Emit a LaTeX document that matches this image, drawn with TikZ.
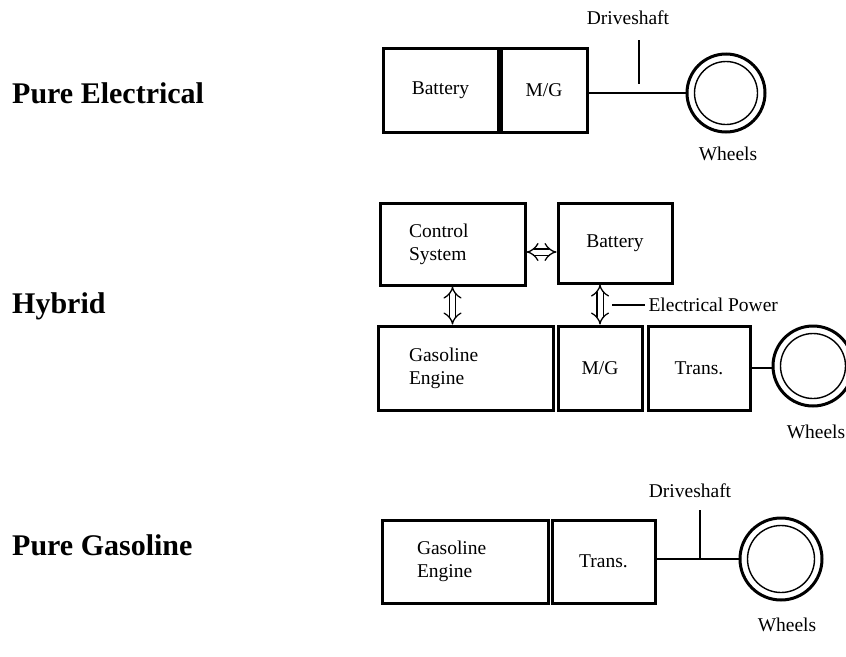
\documentclass[tikz,border=0pt]{standalone}
\usepackage{fontspec}
\setmainfont{Liberation Serif}
\usepackage{tikz}
\usetikzlibrary{arrows.meta}
\usetikzlibrary{calc}

\tikzset{
  unit/.style={draw, line width=3pt, minimum height=84pt, inner sep=0pt, font=\fontsize{19.5}{23}\selectfont},
  lbl/.style={font=\fontsize{19.5}{23}\selectfont},
  title/.style={font=\fontsize{30}{36}\selectfont\bfseries, anchor=base west, inner sep=0pt},
  wheel/.style={circle, draw, line width=3pt, minimum size=#1, inner sep=0pt,
    path picture={\draw[line width=1.4pt] (path picture bounding box.center) circle ({#1/2-7.5pt});}},
  wheel/.default=78pt,
  shaft/.style={line width=2.8pt},
  tick/.style={line width=1.5pt},
  flow/.style={double, double distance=5pt, line width=1.3pt, {Implies}-{Implies}}
}

\begin{document}
\begin{tikzpicture}[x=1pt, y=-1pt]
            \useasboundingbox (0,0) rectangle (846,656);
            % titles
            \node[title](tpe) at (12,103) {Pure Electrical};
            \node[title](thy) at (12,313) {Hybrid};
            \node[title](tpg) at (12,555) {Pure Gasoline};

            % pure electrical
            \node[unit, minimum width=115pt](bat1) at (440.5,90) {Battery};
            \node[unit, minimum width=86pt](mg1) at (544,90) {M/G};
            \node[wheel](wh1) at (726,93) {};
            \node[lbl](whl1) at (728,154) {Wheels};
            \node[lbl](ds1) at (628,18) {Driveshaft};
            \coordinate (t1a) at (639,40);
            \coordinate (t1b) at (639,84);
            \draw[shaft] (wh1.west -| mg1.east) -- (wh1.west);
            \draw[tick] (t1a) -- (t1b);

            % hybrid
            \node[unit, minimum width=145pt, minimum height=82pt, text width=87pt, align=left](cs) at (452.5,244) {Control\\System};
            \node[unit, minimum width=114pt, minimum height=80pt](bat2) at (615,243) {Battery};
            \node[unit, minimum width=175pt, text width=113pt, align=left](ge2) at (465.5,368) {Gasoline\\Engine};
            \node[unit, minimum width=84pt](mg2) at (600,368) {M/G};
            \node[unit, minimum width=102pt](tr2) at (699,368) {Trans.};
            \node[wheel=80pt](wh2) at (813,366) {};
            \node[lbl](whl2) at (816,432) {Wheels};
            \node[lbl, anchor=west](ep) at (645,305) {Electrical Power};
            \coordinate (epa) at (612,305);
            \draw[flow] ([yshift=-8pt]cs.east) -- ([yshift=-8pt]cs.east -| bat2.west);
            \draw[flow] (cs.south) -- (cs.south |- ge2.north);
            \draw[flow] (bat2.south -| mg2) -- (mg2.north);
            \draw[tick] (epa) -- (ep.west);
            \draw[shaft] (tr2.east) -- (tr2.east -| wh2.west);

            % pure gasoline
            \node[unit, minimum width=166pt, minimum height=83pt, text width=96pt, align=left](ge3) at (465,561.5) {Gasoline\\Engine};
            \node[unit, minimum width=103pt, minimum height=83pt](tr3) at (603.5,561.5) {Trans.};
            \node[wheel=82pt](wh3) at (781,559) {};
            \node[lbl](whl3) at (787,625) {Wheels};
            \node[lbl](ds3) at (690,491) {Driveshaft};
            \coordinate (t3a) at (700,510);
            \coordinate (t3b) at (700,558);
            \draw[shaft] (wh3.west -| tr3.east) -- (wh3.west);
            \draw[tick] (t3a) -- (t3b);
        \end{tikzpicture}
\end{document}
